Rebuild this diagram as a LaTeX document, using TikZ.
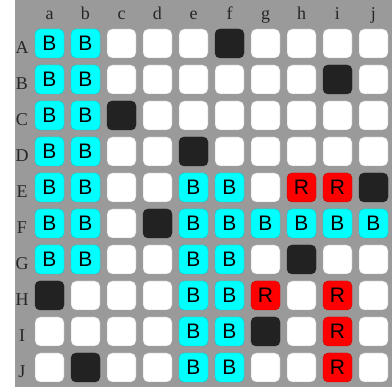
\documentclass[tikz,border=0pt]{standalone}
\usepackage{fontspec}
\setmainfont{Liberation Serif}
\newfontfamily\cellfont{Liberation Sans}
\usetikzlibrary{positioning}
\definecolor{boardgray}{HTML}{9A9A9A}
\definecolor{stonedark}{HTML}{222222}
\definecolor{bluecell}{HTML}{00FFFF}
\definecolor{redcell}{HTML}{FF0000}

\begin{document}
\begin{tikzpicture}[x=1pt,y=-1pt]
	\tikzstyle{cell} = [rectangle, rounded corners=5pt, minimum width=29pt, minimum height=29pt, inner sep=0pt, font=\cellfont\fontsize{21}{21}\selectfont]
	\tikzstyle{cellw} = [cell, fill=white, draw=gray!70, line width=0.3pt, node contents={}]
	\tikzstyle{cellk} = [cell, fill=stonedark, draw=stonedark, node contents={}]
	\tikzstyle{cellB} = [cell, fill=bluecell, draw=bluecell!80!black, line width=0.4pt, node contents={B}]
	\tikzstyle{cellR} = [cell, fill=redcell, draw=redcell!80!black, line width=0.4pt, node contents={R}]
	\tikzstyle{coordlabel} = [inner sep=0pt, anchor=base, text=black!85, font=\fontsize{18}{18}\selectfont]
	\useasboundingbox (0,0) rectangle (392,387);
	\fill[boardgray] (15,0) rectangle (392,387);
	% column and row labels
	\foreach \l [count=\i] in {a,b,c,d,e,f,g,h,i,j}
		\node[coordlabel] (col\l) at ({49.5+36*(\i-1)},20) {\l};
	% board: B = blue, R = red, k = dark stone, w = empty
	\foreach \row/\cells [count=\r] in {
		A/{B,B,w,w,w,k,w,w,w,w},
		B/{B,B,w,w,w,w,w,w,k,w},
		C/{B,B,k,w,w,w,w,w,w,w},
		D/{B,B,w,w,k,w,w,w,w,w},
		E/{B,B,w,w,B,B,w,R,R,k},
		F/{B,B,w,k,B,B,B,B,B,B},
		G/{B,B,w,w,B,B,w,k,w,w},
		H/{k,w,w,w,B,B,R,w,R,w},
		I/{w,w,w,w,B,B,k,w,R,w},
		J/{w,k,w,w,B,B,w,w,R,w}}{
		\node[coordlabel] (row\row) at (22,{54+36*(\r-1)}) {\row};
		\foreach \c [count=\col] in \cells
			\node (\row\col) at ({49.5+36*(\col-1)},{43.5+36*(\r-1)}) [cell\c];
	}
\end{tikzpicture}
\end{document}
